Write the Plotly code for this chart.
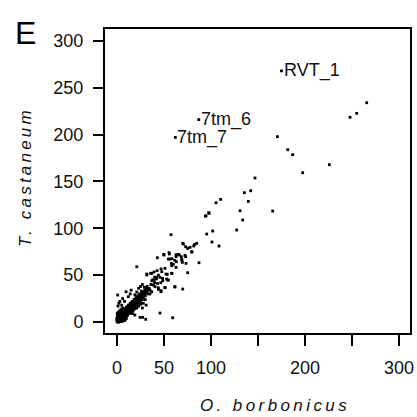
import plotly.graph_objects as go

# O. borbonicus (x) vs T. castaneum (y)
cluster_x = [1,2,1,2,3,3,4,4,5,5,6,6,7,1,2,3,4,0.5,1.5,2.5,3.5,0,0,0.5,1,2,3,5,6,7,8,8,9,9,10,10,11,11,12,12,13,13,14,14,15,15,16,16,17,17,18,18,19,19,20,20,21,21,22,22,23,23,24,24,25,25,26,26,27,27,28,28,29,29,30,30,31,31,32,24,26,22,20,18,16,14,12,10,8,6,4,2,5,7,9,11,13,15,17,19,21,23,25,4,6,8,10,3,5,7,9,2,4,6,8,1,3,0.5,0,0,0.5,1,2,3,4,5,6,7,7,8,9,10,11,12,13,14,15,16,17,18,19,20,21,22,23,9,10,11,12,13,14,15,16,17,18,19,20,21,22,23,24,25,26,27,28,29,30,
             1.5,2.5,3.5,4.5,5.5,6.5,7.5,8.5,9.5,10.5,11.5,12.5,13.5,14.5,1.2,2.2,3.2,4.2,5.2,6.2,7.2,8.2,9.2,10.2,11.2,12.2,0.8,1.8,2.8,3.8,4.8,5.8,6.8,7.8,8.8,9.8,10.8,11.8,12.8,13.8,15.5,17.5,19.5,21.5,23.5,25.5,27.5,29.5,16.5,18.5,20.5,22.5,24.5,26.5,28.5,33,34,35,36.9,
             0.3,1.3,2.3,3.3,4.3,5.3,6.3,7.3,8.3,0.6,1.6,2.6,3.6,4.6,5.6,6.6,7.6,8.6,9.6,10.6,0.2,1.1,2.1,3.1,4.1,5.1,6.1,0.4,1.4,2.4,3.4,4.4,5.4,6.4,7.4,8.4,9.4,10.4,11.4,12.4,13.4,14.4,15.4,16.4,17.4,18.4,19.4,20.4,21.4,22.4,23.4,24.4,25.4,26.4,27.4,28.4,11,13,15,17,19,21,23,25,27,12,14,16,18,20,22,24,26,9,11,13,15,17,19,21]
cluster_y = [1,1,2,3,2,4,3,5,4,6,5,7,6,4,5,6,8,0.5,3,1.5,2.5,2,4,6,7,8,9,9,10,9,8,10,7,11,9,12,10,13,11,14,12,15,13,16,14,17,15,18,16,19,17,20,18,21,19,22,20,23,21,24,22,25,23,26,24,27,25,28,26,30,27,31,29,33,28,34,31,36,33,30,33,28,26,24,22,20,18,16,14,12,11,10,2,4,5,7,9,10,12,14,15,17,19,1,2,3,4,0.5,1,2,3,0,0.5,1,1.5,0,1,3,1,3,5,6,6,7,7,7,8,8,11,12,13,14,15,16,17,18,19,20,21,22,23,24,25,26,27,9,10,11,12,13,14,15,16,17,18,19,20,21,22,23,24,25,26,28,29,31,32,
             2,3,4,5,6,7,8,9,10,11,12,13,14,15,1.2,2.2,3.2,4.2,5.2,6.2,7.2,8.2,9.2,10.2,11.2,12.2,2.5,3.5,4.5,5.5,6.5,7.5,8.5,9.5,10.5,11.5,12.5,13.5,14.5,15.5,18.5,20.5,22.5,24.5,26.5,28.5,30.5,32.5,17,19,21,23,25,27,29,35,36,34,32.3,
             5,6,7,8,9,10,11,12,13,0.2,0.8,1.6,2.1,2.9,3.6,4.4,5.2,6.1,7.2,8.3,9,10,11,12,13,14,15,3.6,4.6,5.6,6.6,7.6,8.6,9.6,10.6,11.6,12.6,13.6,14.6,15.6,16.6,17.6,18.6,19.6,20.6,21.6,22.6,23.6,24.6,25.6,26.6,27.6,28.6,29.6,30.6,31.6,8,10,12,14,16,18,20,22,24,16,18,20,22,24,26,28,30,14,16,18,20,22,24,26]

spread_x = [0.7,9.6,3,1,2,5,8,6,12,14,15,19,21,23,25,27,29,32,34,33,30,28,36,38,40,37,42,44,40,35,31,27,19,16.5,24.5,27.3,30.5,45.7,59.2,21,31.8,42.9,51,49.7,55.3,54.6,58.5,62.8,63.1,58.2,69.1,68.4,66.3,73,57.4,69.9,73,75.1,77.7,79.8,82.6,84.8,87.2,75.2,69.9,61.4,
            35.7,39.4,42.6,42.2,39.4,45.7,48.5,52.1,58.1,54.6,51,46.5,43,38.7,44,46.8,70.6,81.6,79.4,50,55.7,62.8,65.2,72.3,56.4,61.4,68.8,69.5,73.4,57.8,59.9,62.8,46.8,58.5,53.5,52.7,48.6,53.8,61.7,51,46.8,31.6,36.9,47.6,40.4,43.9]
spread_y = [28.8,32.3,22,17,20,18,22,25,27,30,34,29,32,36,38,40,37,38,35,30,24,20,40,45,48,44,46,50,42,30,18,15,7.5,9,5,5,2.9,9.6,4.6,59,50.2,68.6,57.3,72.2,74,67.2,67.6,69.7,64.4,60.1,65.4,69.7,71.5,69.7,93.2,84,80.4,78.6,79.7,75,82.9,84,63.3,52.6,35.2,37.4,
            52,53.4,54.8,47.7,44.8,47.7,46.6,51.2,51.9,44.8,37,41.9,41.2,39.5,34.9,33.5,83.2,81.1,74.7,71.5,72.6,71.8,72.2,71.2,67.2,65.8,66.9,63.7,62.6,62.6,61.5,58.3,56.6,52,50.9,45.9,44.1,44.8,37.7,36.6,32.3,51.2,52,53.7,37.7,36.6]

high_x = [265.6,255,247.9,170.6,181.6,186.9,225.9,197.5,146.8,142.2,135.5,139.7,110.3,105.3,94.7,97.5,130.9,165.6,133.7,127.3,95.4,101.8,101,108.5,94,98]
high_y = [234,222.7,218.5,197.8,183.9,178.6,167.9,159.3,153.7,140.1,138,128.7,130.9,127.3,113.4,116.7,118.8,118.5,108.9,98.2,93.9,97.1,85.4,81.1,113,116]

label_names = ["RVT_1", "7tm_6", "7tm_7"]
label_x = [175, 87, 62]
label_y = [268, 216, 197]

x_ticks = [0, 50, 100, 150, 200, 250, 300]
x_ticktext = ["0", "50", "100", "", "200", "", "300"]
y_ticks = [0, 50, 100, 150, 200, 250, 300]

all_x = cluster_x + spread_x + high_x + label_x
all_y = cluster_y + spread_y + high_y + label_y

FAM = "Liberation Sans, Arial, sans-serif"
fnt = dict(family=FAM, size=18, color="#111111")

fig = go.Figure()
fig.add_trace(go.Scatter(
    x=all_x, y=all_y, mode="markers",
    marker=dict(symbol="square", size=2.8, color="black", line=dict(width=0)),
    hoverinfo="skip", showlegend=False, cliponaxis=False))

for n, lx, ly in zip(label_names, label_x, label_y):
    fig.add_annotation(x=lx, y=ly, xref="x", yref="y", text=n, showarrow=False,
                       xanchor="left", yanchor="middle", xshift=0, font=fnt)

L, R, T, B = 105, 410, 29, 333
W, H = R - L, B - T

def px(xp):
    return (xp - L) / W

def py(yp):
    return (B - yp) / H

fig.add_annotation(x=px(275), y=py(405), xref="paper", yref="paper",
                   text='<span style="letter-spacing:3.4px">O. borbonicus</span>',
                   showarrow=False, xanchor="center", yanchor="middle",
                   font=dict(family=FAM, size=17, color="#111111", style="italic"))
fig.add_annotation(x=px(25), y=py(177), xref="paper", yref="paper",
                   text='<span style="letter-spacing:3.2px">T. castaneum</span>',
                   textangle=-90, showarrow=False,
                   xanchor="center", yanchor="middle",
                   font=dict(family=FAM, size=17, color="#111111", style="italic"))
fig.add_annotation(x=px(25), y=py(33.5), xref="paper", yref="paper",
                   text="E", showarrow=False, xanchor="center", yanchor="middle",
                   font=dict(family=FAM, size=32, color="black"))

fig.update_layout(
    width=417, height=417,
    margin=dict(l=L, r=417 - R, t=T, b=417 - B, autoexpand=False),
    plot_bgcolor="white", paper_bgcolor="white",
    font=fnt,
    xaxis=dict(range=[-12.8, 311.7], tickvals=x_ticks, ticktext=x_ticktext,
               ticks="outside", ticklen=11, tickwidth=2, tickcolor="black",
               showline=True, linecolor="black", linewidth=2, mirror=True,
               showgrid=False, zeroline=False, tickfont=fnt, automargin=False,
               ticklabelstandoff=6),
    yaxis=dict(range=[-11.7, 312.7], tickvals=y_ticks,
               ticks="outside", ticklen=10, tickwidth=2, tickcolor="black",
               showline=True, linecolor="black", linewidth=2, mirror=True,
               showgrid=False, zeroline=False, tickfont=fnt, automargin=False,
               ticklabelstandoff=6),
)

fig.write_html("out.html", config={"displayModeBar": False},
               post_script="document.body.style.margin='0';document.body.style.overflow='hidden';")
